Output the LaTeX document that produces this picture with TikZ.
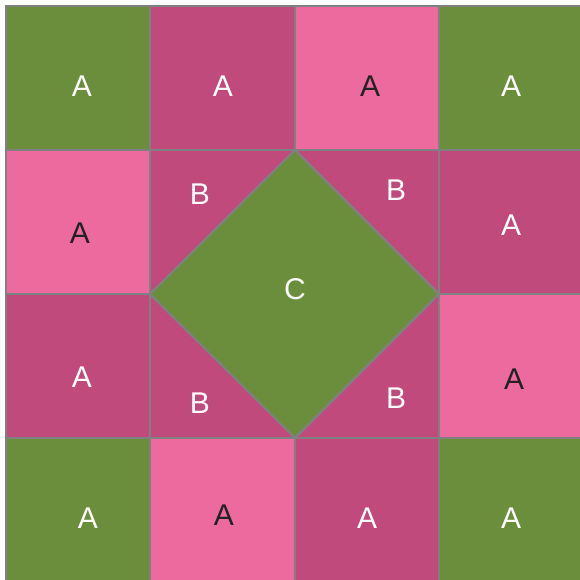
\documentclass[tikz,border=0pt]{standalone}
\usepackage{fontspec}
\setmainfont{Liberation Sans}
\definecolor{leaf}{HTML}{6B8E3C}
\definecolor{rose}{HTML}{C04A7B}
\definecolor{blush}{HTML}{EC6A9E}
\definecolor{seam}{HTML}{808080}
\definecolor{ink}{HTML}{222222}
\begin{document}
\begin{tikzpicture}[x=1pt, y=-1pt, patch/.style={draw=seam, line width=2.2pt}, lbl/.style={font=\fontsize{30}{32}\selectfont, text=white}, dark/.style={text=ink}]
	\useasboundingbox (0,0) rectangle (579,580);
	% outer ring of squares
	\filldraw[patch, fill=leaf] (6,6) rectangle (150,150);
	\filldraw[patch, fill=rose] (150,6) rectangle (295,150);
	\filldraw[patch, fill=blush] (295,6) rectangle (439,150);
	\filldraw[patch, fill=leaf] (439,6) rectangle (583,150);
	\filldraw[patch, fill=blush] (6,150) rectangle (150,294);
	\filldraw[patch, fill=rose] (439,150) rectangle (583,294);
	\filldraw[patch, fill=rose] (6,294) rectangle (150,438);
	\filldraw[patch, fill=blush] (439,294) rectangle (583,438);
	\filldraw[patch, fill=leaf] (6,438) rectangle (150,582);
	\filldraw[patch, fill=blush] (150,438) rectangle (295,582);
	\filldraw[patch, fill=rose] (295,438) rectangle (439,582);
	\filldraw[patch, fill=leaf] (439,438) rectangle (583,582);
	% centre block
	\filldraw[patch, fill=rose] (150,150) rectangle (439,438);
	\filldraw[patch, fill=leaf] (295,150) -- (439,294) -- (295,438) -- (150,294) -- cycle;

	\node[lbl] (a11) at (82,86) {A};
	\node[lbl] (a12) at (223,86) {A};
	\node[lbl, dark] (a13) at (370,86) {A};
	\node[lbl] (a14) at (511,86) {A};
	\node[lbl, dark] (a21) at (80,233) {A};
	\node[lbl] (a24) at (511,225) {A};
	\node[lbl] (a31) at (82,377) {A};
	\node[lbl, dark] (a34) at (514,379) {A};
	\node[lbl] (a41) at (88,518) {A};
	\node[lbl, dark] (a42) at (224,515) {A};
	\node[lbl] (a43) at (367,518) {A};
	\node[lbl] (a44) at (511,518) {A};

	\node[lbl] (b1) at (200,194) {B};
	\node[lbl] (b2) at (396,190) {B};
	\node[lbl] (b3) at (200,403) {B};
	\node[lbl] (b4) at (396,398) {B};
	\node[lbl] (c) at (295,289) {C};
\end{tikzpicture}
\end{document}
